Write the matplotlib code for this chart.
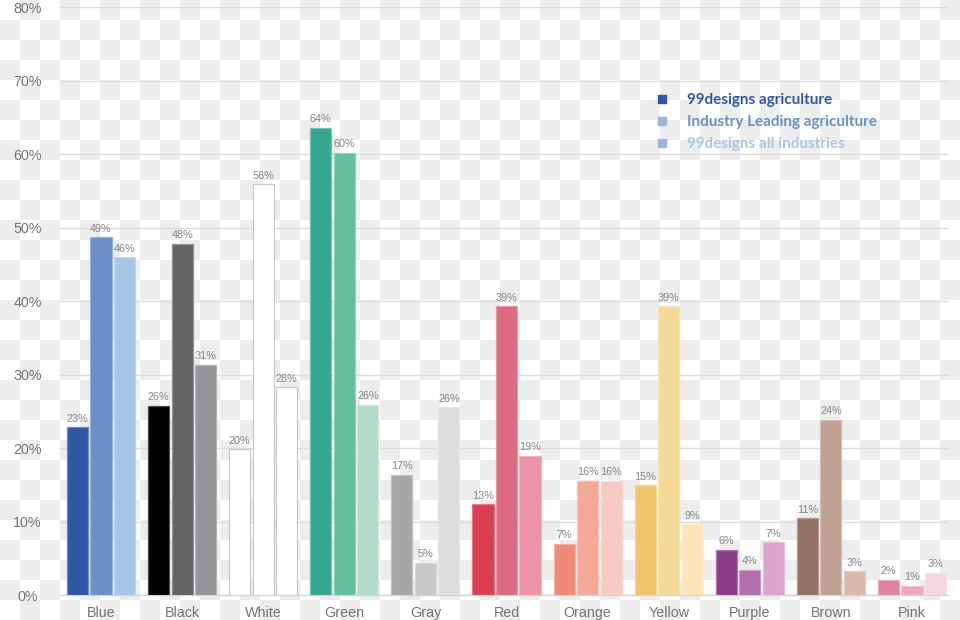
import numpy as np
import matplotlib
matplotlib.use("Agg")
import matplotlib.pyplot as plt
from matplotlib.lines import Line2D
from matplotlib.colors import to_rgb

categories = ["Blue", "Black", "White", "Green", "Gray", "Red", "Orange",
              "Yellow", "Purple", "Brown", "Pink"]
series_names = ["99designs agriculture", "Industry Leading agriculture",
                "99designs all industries"]

agri_99 = [22.9, 25.8, 19.9, 63.6, 16.4, 12.4, 7.0, 15.0, 6.2, 10.5, 2.1]
agri_lead = [48.7, 47.8, 55.9, 60.2, 4.4, 39.3, 15.6, 39.3, 3.5, 23.9, 1.3]
all_99 = [46.0, 31.4, 28.3, 25.9, 25.6, 19.0, 15.6, 9.7, 7.2, 3.3, 3.1]

labels_agri_99 = [23, 26, 20, 64, 17, 13, 7, 15, 6, 11, 2]
labels_agri_lead = [49, 48, 56, 60, 5, 39, 16, 39, 4, 24, 1]
labels_all_99 = [46, 31, 28, 26, 26, 19, 16, 9, 7, 3, 3]

colors = {
    "Blue":   ["#3057a6", "#6b8fc6", "#a7c6e6"],
    "Black":  ["#000000", "#636466", "#939598"],
    "White":  ["#ffffff", "#ffffff", "#ffffff"],
    "Green":  ["#36a790", "#63bf99", "#b3dcc8"],
    "Gray":   ["#a7a7a7", "#c7c8c8", "#dcdddd"],
    "Red":    ["#d93f51", "#dc6a80", "#ec93a5"],
    "Orange": ["#ef8a77", "#f5a898", "#f9c9c4"],
    "Yellow": ["#f1c56d", "#f3da99", "#fce5b9"],
    "Purple": ["#8b3e87", "#b26eae", "#dba5cc"],
    "Brown":  ["#927264", "#c0a295", "#dbb8ab"],
    "Pink":   ["#e082a0", "#eea8c1", "#f6d6de"],
}
legend_marker_colors = ["#3057a6", "#9ab6dd", "#9ab6dd"]
legend_text_colors = ["#3057a6", "#6b8fc6", "#a7c6e6"]
yticks = [0, 10, 20, 30, 40, 50, 60, 70, 80]


def lighten(c, f):
    r, g, b = to_rgb(c)
    return (r + (1 - r) * f, g + (1 - g) * f, b + (1 - b) * f)


W, H = 960, 620
fig = plt.figure(figsize=(W / 100, H / 100), dpi=100)

# transparency checkerboard background (as in the reference image)
yy, xx = np.mgrid[0:H, 0:W]
chk = ((xx // 20 + yy // 20) % 2).astype(float)
bg = np.where(chk[..., None] == 1, np.array([0.933, 0.933, 0.933]), np.array([1.0, 1.0, 1.0]))
fig.figimage(bg, xo=0, yo=0, origin="upper", zorder=-10)
fig.patch.set_alpha(0)

ax_left, ax_right = 60 / W, 948 / W
ax_bottom, ax_top = (H - 595.3) / H, (H - 7.3) / H
ax = fig.add_axes([ax_left, ax_bottom, ax_right - ax_left, ax_top - ax_bottom])
ax.patch.set_alpha(0)

x = np.arange(len(categories))
step, width = 0.29, 0.26
series = [agri_99, agri_lead, all_99]
series_labels = [labels_agri_99, labels_agri_lead, labels_all_99]

for k in range(3):
    vals = series[k]
    fcs = [colors[c][k] for c in categories]
    ecs = ["#c9c9c9" if c == "White" else lighten(colors[c][k], 0.3) for c in categories]
    bars = ax.bar(x + (k - 1) * step, vals, width=width, color=fcs,
                  edgecolor=ecs, linewidth=0.9, zorder=3)
    ax.bar_label(bars, labels=[f"{v}%" for v in series_labels[k]], padding=2.5,
                 fontsize=7.8, color="#858585", family="Liberation Sans", zorder=4)

ax.set_ylim(0, 80)
ax.set_xlim(-0.506, 10.444)
ax.set_yticks(yticks)
ax.set_yticklabels([f"{t}%" for t in yticks])
ax.set_xticks(x)
ax.set_xticklabels(categories)
ax.grid(axis="y", color="#dcdcdc", linewidth=1, zorder=0)
ax.set_axisbelow(True)
for s in ["top", "right", "left"]:
    ax.spines[s].set_visible(False)
ax.spines["bottom"].set_color("#d4d4d4")
ax.spines["bottom"].set_linewidth(1)
ax.tick_params(axis="y", length=0, pad=23.5, labelsize=10.3, labelcolor="#747474")
ax.tick_params(axis="x", length=0, pad=8, labelsize=10.3, labelcolor="#747474")
for t in ax.get_yticklabels():
    t.set_horizontalalignment("center")
    t.set_family("Liberation Sans")
for t in ax.get_xticklabels():
    t.set_family("Liberation Sans")

handles = [Line2D([], [], marker="s", linestyle="", markersize=5.5,
                  color=c) for c in legend_marker_colors]
leg = ax.legend(handles, series_names, loc="upper left",
                bbox_to_anchor=(647 / W, (H - 85.5) / H), bbox_transform=fig.transFigure,
                frameon=False, borderpad=0, handlelength=1.0, handletextpad=1.1,
                labelspacing=0.52, prop={"family": "Lato", "weight": "bold", "size": 11})
for txt, c in zip(leg.get_texts(), legend_text_colors):
    txt.set_color(c)

fig.savefig("out.png", dpi=100, transparent=False)
